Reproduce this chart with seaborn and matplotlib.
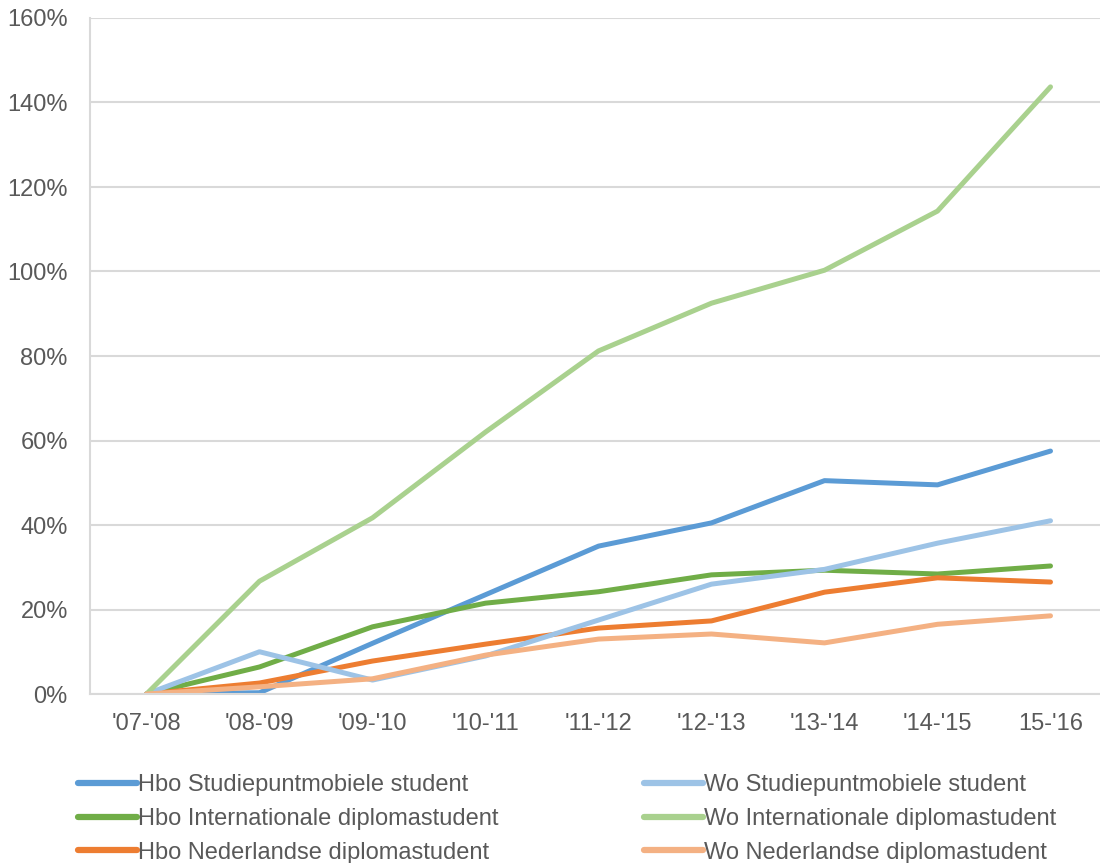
import pandas as pd
import matplotlib
matplotlib.use("Agg")
import matplotlib.pyplot as plt
import seaborn as sns
from matplotlib.ticker import FuncFormatter, FixedLocator

# ---------- DATA ----------
years = ["'07-'08", "'08-'09", "'09-'10", "'10-'11", "'11-'12",
         "'12-'13", "'13-'14", "'14-'15", "15-'16"]

hbo_studiepunt = [0, 0.3, 12.0, 23.5, 35.0, 40.5, 50.5, 49.5, 57.5]
wo_studiepunt = [0, 10.0, 3.3, 9.0, 17.5, 26.0, 29.5, 35.7, 41.0]
hbo_internationaal = [0, 6.4, 15.9, 21.5, 24.2, 28.2, 29.3, 28.4, 30.3]
wo_internationaal = [0, 26.7, 41.7, 62.0, 81.2, 92.5, 100.3, 114.3, 143.7]
hbo_nederlands = [0, 2.6, 7.8, 11.8, 15.6, 17.3, 24.1, 27.5, 26.5]
wo_nederlands = [0, 1.7, 3.6, 9.2, 13.0, 14.2, 12.1, 16.5, 18.5]

series = {
    "Hbo Studiepuntmobiele student": hbo_studiepunt,
    "Hbo Internationale diplomastudent": hbo_internationaal,
    "Hbo Nederlandse diplomastudent": hbo_nederlands,
    "Wo Studiepuntmobiele student": wo_studiepunt,
    "Wo Internationale diplomastudent": wo_internationaal,
    "Wo Nederlandse diplomastudent": wo_nederlands,
}
colors = ["#5B9BD5", "#70AD47", "#ED7D31", "#9DC3E6", "#A9D18E", "#F4B183"]

rows = []
for name, vals in series.items():
    for y, v in zip(years, vals):
        rows.append({"jaar": y, "groei": v, "groep": name})
df = pd.DataFrame(rows)

# ---------- PLOT ----------
sns.set_style("white")
plt.rcParams["font.family"] = ["Liberation Sans", "DejaVu Sans"]

fig = plt.figure(figsize=(11, 8.63), dpi=100)
ax = fig.add_axes([90 / 1100, 1 - 694 / 863, 1017 / 1100, (694 - 18) / 863])

sns.lineplot(data=df, x="jaar", y="groei", hue="groep", hue_order=list(series.keys()),
             palette=colors, linewidth=3.6, sort=False, ax=ax, legend=True)

ax.set_xlim(-0.5, len(years) - 0.5)
ax.set_ylim(0, 160)
ax.set_yticks(range(0, 161, 20))
ax.yaxis.set_major_formatter(FuncFormatter(lambda v, p: f"{int(v)}%"))
ax.set_xlabel("")
ax.set_ylabel("")

grid_c = "#D9D9D9"
ax.grid(axis="y", color=grid_c, linewidth=1.5)
ax.set_axisbelow(True)
for s in ["top", "right"]:
    ax.spines[s].set_visible(False)
ax.spines["left"].set_color(grid_c)
ax.spines["left"].set_linewidth(1.5)
ax.spines["bottom"].set_color(grid_c)
ax.spines["bottom"].set_linewidth(1.5)

# category boundary ticks
ax.xaxis.set_minor_locator(FixedLocator([i - 0.5 for i in range(len(years) + 1)]))
ax.tick_params(axis="x", which="minor", length=9, width=1.5, color=grid_c, direction="out")
ax.tick_params(axis="x", which="major", length=0, pad=14, labelsize=17, labelcolor="#595959")
ax.tick_params(axis="y", length=0, pad=16, labelsize=17, labelcolor="#595959")

# legend below plot, Hbo in column 1 and Wo in column 2
handles, labels = ax.get_legend_handles_labels()
ax.get_legend().remove()
leg = fig.legend(handles, labels, ncol=2, loc="upper left", bbox_to_anchor=(78 / 1100, 1 - 774 / 863),
                 frameon=False, fontsize=17, handlelength=2.5, handletextpad=0.05,
                 columnspacing=6.15, labelspacing=0.5, borderaxespad=0, borderpad=0)
for t in leg.get_texts():
    t.set_color("#595959")
for h in leg.get_lines():
    h.set_linewidth(4.5)

fig.savefig("out.png", dpi=100)
